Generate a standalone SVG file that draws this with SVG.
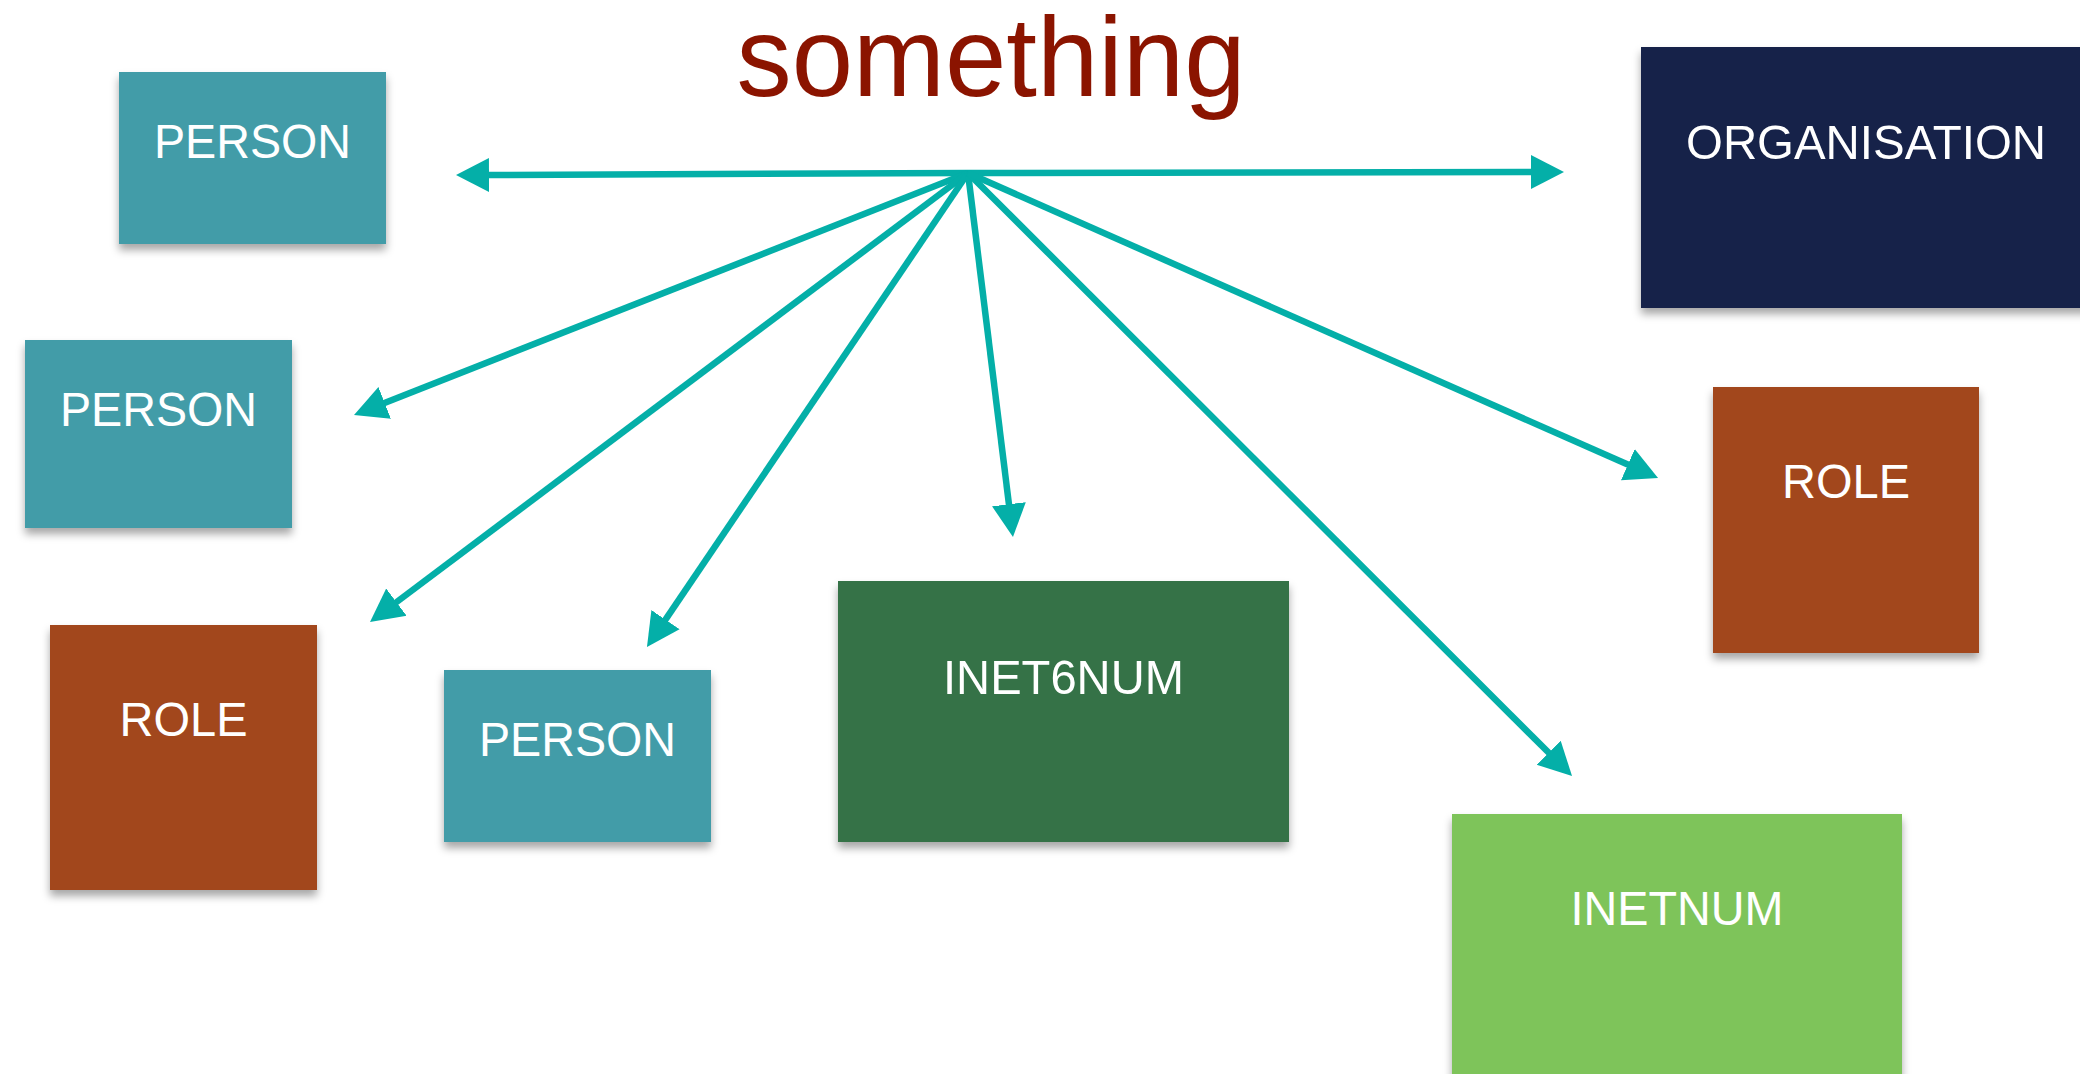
<svg xmlns="http://www.w3.org/2000/svg" width="2080" height="1074" viewBox="0 0 2080 1074">
<style>
.lbl{font-family:"Liberation Sans",Arial,sans-serif;font-size:49px;fill:#ffffff;text-anchor:middle}
.conn{stroke:#04AFA8;stroke-width:6.5;fill:none}
</style>
<defs>
<filter id="sh" x="-10%" y="-10%" width="120%" height="130%">
<feDropShadow dx="0" dy="6" stdDeviation="4" flood-color="#000" flood-opacity="0.35"/>
</filter>
<marker id="ah" markerUnits="userSpaceOnUse" markerWidth="40" markerHeight="40" viewBox="0 -20 40 40" refX="3" refY="0" orient="auto-start-reverse">
<path d="M0,-17 L33,0 L0,17 z" fill="#04AFA8"/>
</marker>
</defs>
<rect width="2080" height="1074" fill="#ffffff"/>
<text x="991" y="96" font-family="Liberation Sans, Arial, sans-serif" font-size="114" fill="#8B1400" text-anchor="middle" textLength="509" lengthAdjust="spacingAndGlyphs">something</text>

<g id="person1"><rect x="119" y="72" width="267" height="172" fill="#429CA8" filter="url(#sh)"/><text class="lbl" x="252.5" y="158" textLength="197" lengthAdjust="spacingAndGlyphs">PERSON</text></g>
<g id="person2"><rect x="25" y="340" width="267" height="188" fill="#429CA8" filter="url(#sh)"/><text class="lbl" x="158.5" y="426" textLength="197" lengthAdjust="spacingAndGlyphs">PERSON</text></g>
<g id="role1"><rect x="50" y="625" width="267" height="265" fill="#A2461F" filter="url(#sh)"/><text class="lbl" x="183.5" y="736" textLength="128" lengthAdjust="spacingAndGlyphs">ROLE</text></g>
<g id="person3"><rect x="444" y="670" width="267" height="172" fill="#429CA8" filter="url(#sh)"/><text class="lbl" x="577.5" y="756" textLength="197" lengthAdjust="spacingAndGlyphs">PERSON</text></g>
<g id="inet6num"><rect x="838" y="581" width="451" height="261" fill="#347246" filter="url(#sh)"/><text class="lbl" x="1063.5" y="694" textLength="241" lengthAdjust="spacingAndGlyphs">INET6NUM</text></g>
<g id="inetnum"><rect x="1452" y="814" width="450" height="280" fill="#7EC45A" filter="url(#sh)"/><text class="lbl" x="1677" y="925" textLength="213" lengthAdjust="spacingAndGlyphs">INETNUM</text></g>
<g id="role2"><rect x="1713" y="387" width="266" height="266" fill="#A2461F" filter="url(#sh)"/><text class="lbl" x="1846" y="498" textLength="128" lengthAdjust="spacingAndGlyphs">ROLE</text></g>
<g id="organisation"><rect x="1641" y="47" width="460" height="261" fill="#16204A" filter="url(#sh)"/><text class="lbl" x="1866" y="159" textLength="360" lengthAdjust="spacingAndGlyphs">ORGANISATION</text></g>

<g id="connectors">
<line class="conn" x1="968" y1="173" x2="486" y2="175" marker-end="url(#ah)"/>
<line class="conn" x1="968" y1="173" x2="1534" y2="172" marker-end="url(#ah)"/>
<line class="conn" x1="968" y1="173" x2="381.9" y2="404" marker-end="url(#ah)"/>
<line class="conn" x1="968" y1="173" x2="394" y2="604" marker-end="url(#ah)"/>
<line class="conn" x1="968" y1="173" x2="663.8" y2="622.1" marker-end="url(#ah)"/>
<line class="conn" x1="968" y1="173" x2="1009.3" y2="507.2" marker-end="url(#ah)"/>
<line class="conn" x1="968" y1="173" x2="1550.8" y2="754.8" marker-end="url(#ah)"/>
<line class="conn" x1="968" y1="173" x2="1630.6" y2="465.8" marker-end="url(#ah)"/>
</g>
</svg>
